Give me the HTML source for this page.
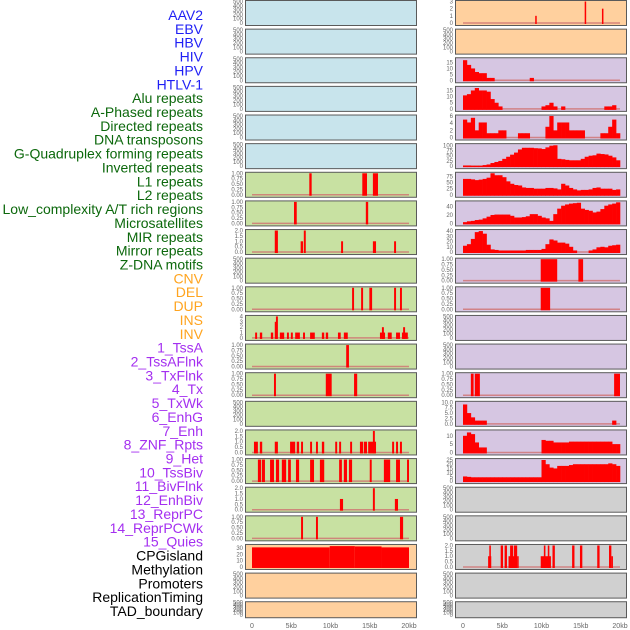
<!DOCTYPE html>
<html><head><meta charset="utf-8">
<style>
body{margin:0;background:#fff;}
svg{display:block;font-family:"Liberation Sans",sans-serif;}
</style></head>
<body>
<svg id="chart" width="630" height="630" viewBox="0 0 630 630"></svg>
<script>
// ---- Track labels ----
const labelNames = ["AAV2","EBV","HBV","HIV","HPV","HTLV-1","Alu repeats","A-Phased repeats","Directed repeats","DNA transposons","G-Quadruplex forming repeats","Inverted repeats","L1 repeats","L2 repeats","Low_complexity A/T rich regions","Microsatellites","MIR repeats","Mirror repeats","Z-DNA motifs","CNV","DEL","DUP","INS","INV","1_TssA","2_TssAFlnk","3_TxFlnk","4_Tx","5_TxWk","6_EnhG","7_Enh","8_ZNF_Rpts","9_Het","10_TssBiv","11_BivFlnk","12_EnhBiv","13_ReprPC","14_ReprPCWk","15_Quies","CPGisland","Methylation","Promoters","ReplicationTiming","TAD_boundary"];
const labelGroups = [0,0,0,0,0,0,1,1,1,1,1,1,1,1,1,1,1,1,1,2,2,2,2,2,3,3,3,3,3,3,3,3,3,3,3,3,3,3,3,4,4,4,4,4];
const groupColors = ["#1f1ff5","#0c680c","#ffa41f","#a42ff0","#000000"];

// ---- X axis ----
const xTickValues = [0,5,10,15,20];
const xTickLabels = ["0","5kb","10kb","15kb","20kb"];

// ---- Y tick sets ----
const tEmpty = ["0","100","200","300","400","500"];
const tUnit = ["0.00","0.25","0.50","0.75","1.00"];
const tTwo = ["0.0","0.5","1.0","1.5","2.0"];

// ---- Left column: segments [startKb, endKb, value] ----
const L7 = [[7.3,7.6,1],[14.05,14.65,1],[15.4,16.05,1]];
const L8 = [[5.35,5.7,1],[14.5,14.8,1]];
const L9 = [[2.9,3.3,2],[6.2,6.5,1],[6.6,6.85,2],[11.35,11.6,1],[15.4,15.8,1],[18.1,18.35,1]];
const L11 = [[12.75,13.0,1],[13.9,14.15,1],[14.95,15.3,1],[18.1,18.35,1],[18.85,19.1,1]];
const L12 = [[0.4,0.65,1],[1.0,1.3,1],[2.4,2.7,1],[2.9,3.2,3],[3.05,3.3,4],[3.55,4.1,1],[4.45,4.7,1],[4.95,5.2,1],[5.5,6.1,1],[6.5,6.75,1],[7.4,8.0,1],[8.9,9.2,1],[9.4,9.7,1],[10.95,11.3,1],[11.7,12.2,1],[16.3,16.95,1],[16.55,16.8,2],[17.3,17.8,1],[18.35,18.85,1],[19.1,19.85,1],[19.25,19.5,2]];
const L13 = [[12.0,12.35,1]];
const L14 = [[2.8,3.05,1],[9.4,10.15,1],[13.0,13.4,1]];
const L16 = [[0.25,0.75,1],[1.0,1.3,1],[2.9,3.3,1],[4.85,5.5,1],[5.7,6.0,1],[6.25,6.5,1],[7.4,7.65,1],[8.15,8.4,1],[8.9,9.2,1],[10.6,10.85,1],[11.1,11.35,1],[12.5,12.75,1],[13.75,14.15,1],[14.25,14.65,1],[14.8,15.8,1],[15.4,15.65,2],[17.85,18.1,1],[18.35,18.6,1],[18.85,19.1,1]];
const L17 = [[0.75,1.15,1],[1.25,1.65,1],[2.3,2.8,1],[3.05,3.45,1],[3.8,4.35,1],[4.6,4.95,1],[5.6,6.0,1],[7.4,7.9,1],[8.65,9.2,1],[11.1,11.45,1],[11.7,12.1,1],[12.35,12.75,1],[15.0,15.25,1],[16.8,17.6,1],[18.35,18.85,1],[19.75,20.0,1]];
const L18 = [[11.2,11.6,1],[15.4,15.65,2],[18.2,18.6,1]];
const L19 = [[6.25,6.5,1],[8.15,8.4,1],[18.85,19.25,1]];
const L20 = [[0,9.9,31],[9.9,13.1,33],[13.1,16.5,32.5],[16.5,20,31]];

// ---- Right column ----
const R1 = [[9.2,9.35,1],[15.5,15.65,3],[17.7,17.85,2]];
const R3 = [17,13,10,7,6,6,2,2,0,0,0,0,0,0,0,0,0,2,0,0,0,0,0,0,0,0,0,0,0,0,0,0,0,0,0,0,0,0,0,0];
const R4 = [11,12,15,17,15,15,14,8,5,2,0,0,0,0,0,0,0,0,0,0,2,3,5,2,0,2,0,0,0,0,0,0,0,0,0,0,2,2,3,0];
const R5 = [5,4.2,5.5,2,4.2,4.2,1.2,1.2,1.2,2,2,0,0,0,1.2,1.2,1.2,0,0,0,0,3,6,2,4.2,4.2,4.2,2,2,2,2,0,0,0,0,1.2,1.2,3,5,1.2];
const R6 = [3,3,2,2,2,5,8,15,20,25,35,45,55,65,80,88,88,88,86,85,82,90,98,100,35,33,30,28,28,28,35,45,50,52,60,58,56,50,42,28];
const R7 = [65,65,63,60,62,65,70,88,80,80,72,55,45,40,38,30,28,28,25,25,25,28,28,26,22,45,38,28,22,18,20,20,22,28,30,25,25,25,20,22];
const R8 = [3,5,6,8,9,12,16,20,21,21,21,21,18,14,14,15,17,22,22,18,14,12,6,22,35,42,45,47,48,49,35,32,30,26,28,34,42,45,47,50];
const R9 = [12,15,25,38,40,35,14,5,4,3,3,3,3,3,3,3,4,4,4,4,6,15,24,22,18,18,16,10,3,0,0,0,3,5,9,10,9,12,13,14];
const R10 = [[9.9,12.0,1],[14.7,15.3,1]];
const R11 = [[9.9,11.1,1]];
const R14 = [[1.0,1.35,1],[1.5,2.15,1],[19.25,20.0,1]];
const R15 = [9,5,3,1.5,1.5,1.5,0,0,0,0,0,0,0,0,0,0,0,0,0,0,0,0,0,0,0,0,0,0,0,0,0,0,0,0,0,0,0,0,1.5,0];
const R16 = [10,12,11,6,3,3,0,0,0,0,0,0,0,0,0,0,0,0,0,0,7.5,7,7,6,6,6,6,6.5,6.5,6.5,6.5,6.5,6.5,6.5,6.5,6.5,6.5,6.5,5,5];
const R17 = [5.5,5,4.5,4.5,4.5,4.5,4.5,4.5,4.5,4.5,4.5,4.5,4.5,4.5,4.5,4.5,4.5,4.5,4.5,4.5,25,20,16,15,18,18,18,19,20,20,20,20,20,20,20,20,20,21,20,18];
const R20 = [[3.2,3.6,1],[3.35,3.55,2],[4.8,5.1,2],[5.3,5.6,2],[5.8,6.7,1],[6.0,6.4,2],[6.5,6.9,2],[6.9,7.0,1],[9.9,11.2,1],[10.3,10.5,2],[10.8,11.0,2],[11.4,11.7,2],[13.9,14.2,2],[14.9,15.2,2],[17.1,17.4,2],[18.6,18.9,2],[18.9,19.1,1]];

const BLUE="#c8e4ec", GREEN="#c8e1a2", ORANGE="#ffd09e", PURPLE="#d6c6e2", GREY="#d0d0d0";
// panel configs: [column, row, bg, kind, data, domainMax, tickValues, tickLabels]
const panels = [
 [0,0,BLUE,"none",null,500,[0,100,200,300,400,500],tEmpty],
 [0,1,BLUE,"none",null,500,[0,100,200,300,400,500],tEmpty],
 [0,2,BLUE,"none",null,500,[0,100,200,300,400,500],tEmpty],
 [0,3,BLUE,"none",null,500,[0,100,200,300,400,500],tEmpty],
 [0,4,BLUE,"none",null,500,[0,100,200,300,400,500],tEmpty],
 [0,5,BLUE,"none",null,500,[0,100,200,300,400,500],tEmpty],
 [0,6,GREEN,"seg",L7,1,[0,.25,.5,.75,1],tUnit],
 [0,7,GREEN,"seg",L8,1,[0,.25,.5,.75,1],tUnit],
 [0,8,GREEN,"seg",L9,2,[0,.5,1,1.5,2],tTwo],
 [0,9,GREEN,"none",null,500,[0,100,200,300,400,500],tEmpty],
 [0,10,GREEN,"seg",L11,1,[0,.25,.5,.75,1],tUnit],
 [0,11,GREEN,"seg",L12,4,[0,1,2,3,4],["0","1","2","3","4"]],
 [0,12,GREEN,"seg",L13,1,[0,.25,.5,.75,1],tUnit],
 [0,13,GREEN,"seg",L14,1,[0,.25,.5,.75,1],tUnit],
 [0,14,GREEN,"none",null,500,[0,100,200,300,400,500],tEmpty],
 [0,15,GREEN,"seg",L16,2,[0,.5,1,1.5,2],tTwo],
 [0,16,GREEN,"seg",L17,1,[0,.25,.5,.75,1],tUnit],
 [0,17,GREEN,"seg",L18,2,[0,.5,1,1.5,2],tTwo],
 [0,18,GREEN,"seg",L19,1,[0,.25,.5,.75,1],tUnit],
 [0,19,ORANGE,"seg",L20,34,[0,10,20,30],["0","10","20","30"]],
 [0,20,ORANGE,"none",null,500,[0,100,200,300,400,500],tEmpty],
 [0,21,ORANGE,"none",null,500,[0,100,200,300,400,500],tEmpty],
 [1,0,ORANGE,"seg",R1,3,[0,1,2,3],["0","1","2","3"]],
 [1,1,ORANGE,"none",null,500,[0,100,200,300,400,500],tEmpty],
 [1,2,PURPLE,"bins",R3,18.2,[0,5,10,15],["0","5","10","15"]],
 [1,3,PURPLE,"bins",R4,17.5,[0,5,10,15],["0","5","10","15"]],
 [1,4,PURPLE,"bins",R5,6,[0,2,4,6],["0","2","4","6"]],
 [1,5,PURPLE,"bins",R6,103,[0,25,50,75,100],["0","25","50","75","100"]],
 [1,6,PURPLE,"bins",R7,88,[0,25,50,75],["0","25","50","75"]],
 [1,7,PURPLE,"bins",R8,51,[0,20,40],["0","20","40"]],
 [1,8,PURPLE,"bins",R9,41,[0,10,20,30,40],["0","10","20","30","40"]],
 [1,9,PURPLE,"seg",R10,1,[0,.25,.5,.75,1],tUnit],
 [1,10,PURPLE,"seg",R11,1,[0,.25,.5,.75,1],tUnit],
 [1,11,PURPLE,"none",null,500,[0,100,200,300,400,500],tEmpty],
 [1,12,PURPLE,"none",null,500,[0,100,200,300,400,500],tEmpty],
 [1,13,PURPLE,"seg",R14,1,[0,.25,.5,.75,1],tUnit],
 [1,14,PURPLE,"bins",R15,10,[0,2.5,5,7.5,10],["0.0","2.5","5.0","7.5","10.0"]],
 [1,15,PURPLE,"bins",R16,12.9,[0,5,10],["0","5","10"]],
 [1,16,PURPLE,"bins",R17,25.5,[0,5,10,15,20,25],["0","5","10","15","20","25"]],
 [1,17,GREY,"none",null,500,[0,100,200,300,400,500],tEmpty],
 [1,18,GREY,"none",null,500,[0,100,200,300,400,500],tEmpty],
 [1,19,GREY,"seg",R20,2,[0,.5,1,1.5,2],tTwo],
 [1,20,GREY,"none",null,500,[0,100,200,300,400,500],tEmpty],
 [1,21,GREY,"none",null,500,[0,100,200,300,400,500],tEmpty]
];

const NS="http://www.w3.org/2000/svg";
const svg=document.getElementById('chart');
function mk(tag,attrs,parent){const e=document.createElementNS(NS,tag);for(const k in attrs)e.setAttribute(k,attrs[k]);(parent||svg).appendChild(e);return e;}

// labels
labelNames.forEach((n,i)=>{
  const t=mk('text',{x:203,y:20+i*13.86,'text-anchor':'end','font-size':14,fill:groupColors[labelGroups[i]]});
  
  
  t.textContent=n;
});

const colPanelX=[245,455], colX0=[252,463], kbPx=7.85;
function xScale(col,kb){return colX0[col]+kb*kbPx;}
function rowTop(r){return r*28.63;}
function rowH(r){return r===21?16:25;}

panels.forEach(p=>{
  const [col,row,bg,kind,data,dmax,tv,tl]=p;
  const T=rowTop(row), H=rowH(row);
  const base=T+H-2, top=T+1.5;
  const yS=v=>base-(v/dmax)*(base-top);
  const g=mk('g',{});
  
  
  const r=mk('rect',{x:colPanelX[col]+0.5,y:T+0.5,width:171,height:H,fill:bg,stroke:'#5a5a5a','stroke-width':1},g);
  
  
  // y ticks
  tv.forEach((v,i)=>{
    const tt=mk('text',{x:colPanelX[col]-2,y:yS(v)+2,'text-anchor':'end','font-size':6,fill:'#666'},g);
    
    
    tt.textContent=tl[i];
  });
  if(kind!=="none"){
    const bl=mk('line',{x1:xScale(col,0),x2:xScale(col,20),y1:base,y2:base,stroke:'#d07070','stroke-width':1.5,'stroke-opacity':0.8},g);
    
    
  }
  if(kind==="seg"){
    data.forEach(s=>{
      const x1=xScale(col,s[0]), x2=xScale(col,s[1]);
      const b=mk('rect',{x:x1,y:yS(s[2]),width:Math.max(1.5,x2-x1),height:base-yS(s[2])+1,fill:'#ff0000'},g);
      
      
    });
  } else if(kind==="bins"){
    const w=20/data.length;
    data.forEach((v,i)=>{
      if(v<=0)return;
      const x1=xScale(col,i*w), x2=xScale(col,(i+1)*w);
      const b=mk('rect',{x:x1,y:yS(v),width:x2-x1+0.3,height:base-yS(v)+1,fill:'#ff0000'},g);
      
      
    });
  }
});

// x axis labels
[0,1].forEach(col=>{
  xTickValues.forEach((v,i)=>{
    const t=mk('text',{x:xScale(col,v),y:628,'text-anchor':'middle','font-size':7,fill:'#666'});
    
    
    t.textContent=xTickLabels[i];
  });
});
</script>
</body></html>
